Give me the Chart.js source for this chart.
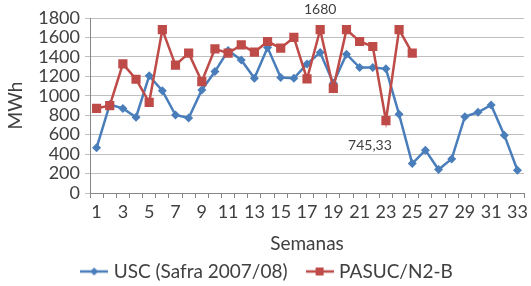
<!DOCTYPE html>
<html><head><meta charset="utf-8">
<script src="https://cdn.jsdelivr.net/npm/chart.js@4/dist/chart.umd.min.js"></script>
<style>html,body{margin:0;padding:0;background:#fff}#wrap{width:531px;height:286px;position:relative}</style>
</head><body><div id="wrap"><canvas id="c"></canvas></div>
<script>
const categories = ['1','2','3','4','5','6','7','8','9','10','11','12','13','14','15','16','17','18','19','20','21','22','23','24','25','26','27','28','29','30','31','32','33'];
const uscValues = [465, 910, 870, 780, 1205, 1053, 802, 771, 1060, 1249, 1465, 1369, 1180, 1496, 1187, 1180, 1328, 1445, 1129, 1428, 1290, 1290, 1277, 809, 303, 441, 241, 351, 785, 830, 905, 595, 234];
const pasucValues = [871, 898, 1328, 1170, 933, 1680, 1315, 1438, 1146, 1483, 1438, 1524, 1449, 1558, 1490, 1600, 1173, 1680, 1077, 1680, 1558, 1507, 745.33, 1680, 1438, null, null, null, null, null, null, null, null];
const xTickLabels = ['1','3','5','7','9','11','13','15','17','19','21','23','25','27','29','31','33'];
const yTickValues = [0, 200, 400, 600, 800, 1000, 1200, 1400, 1600, 1800];
const seriesNames = ['USC (Safra 2007/08)', 'PASUC/N2-B'];
const labelledPoints = [[1, 17], [1, 22]]; // [dataset, index]

const FONT = 'Lato';
const TXT = '#404040';
const BLUE = '#4A7EBB';
const RED = '#BE4B48';

function makeIcon(color, style) {
  const cv = document.createElement('canvas');
  cv.width = 28; cv.height = 12;
  const g = cv.getContext('2d');
  g.strokeStyle = color; g.lineWidth = 2.5;
  g.beginPath(); g.moveTo(0, 6); g.lineTo(28, 6); g.stroke();
  g.fillStyle = color;
  g.beginPath();
  if (style === 'diamond') { g.moveTo(14, 2); g.lineTo(18, 6); g.lineTo(14, 10); g.lineTo(10, 6); g.closePath(); }
  else { g.rect(10, 2, 8, 8); }
  g.fill();
  return cv;
}
const icons = [makeIcon(BLUE, 'diamond'), makeIcon(RED, 'square')];

const legendHeightPlugin = {
  id: 'legendHeight',
  beforeUpdate(chart) {
    const lg = chart.legend;
    if (lg && !lg._patched) {
      const orig = lg.fit.bind(lg);
      lg.fit = function () { orig(); this.height = 46; };
      lg._patched = true;
    }
  }
};

const pointLabelPlugin = {
  id: 'pointLabels',
  afterDatasetsDraw(chart) {
    const ctx = chart.ctx;
    ctx.save();
    ctx.font = '14px ' + FONT;
    ctx.fillStyle = TXT;
    ctx.textAlign = 'center';
    ctx.textBaseline = 'middle';
    labelledPoints.forEach(([d, i], k) => {
      const el = chart.getDatasetMeta(d).data[i];
      const v = chart.data.datasets[d].data[i];
      const txt = String(v).replace('.', ',');
      if (k === 0) ctx.fillText(txt, el.x, el.y - 20);
      else ctx.fillText(txt, el.x - 16, el.y + 25);
    });
    ctx.restore();
  }
};

new Chart(document.getElementById('c'), {
  type: 'line',
  data: {
    labels: categories,
    datasets: [
      { label: seriesNames[0], data: uscValues, borderColor: BLUE, backgroundColor: BLUE, borderWidth: 2.5,
        pointStyle: 'rectRot', pointRadius: 4.5, pointHoverRadius: 4.5, pointBorderWidth: 0, tension: 0, order: 1 },
      { label: seriesNames[1], data: pasucValues, borderColor: RED, backgroundColor: RED, borderWidth: 2.5,
        pointStyle: 'rect', pointRadius: 6.5, pointHoverRadius: 6.5, pointBorderWidth: 0, tension: 0, order: 0, spanGaps: false }
    ]
  },
  options: {
    responsive: true, maintainAspectRatio: false, animation: false,
    layout: { padding: { top: 18, right: 3, left: 9, bottom: 0 } },
    plugins: {
      tooltip: { enabled: false },
      legend: {
        position: 'bottom',
        labels: {
          font: { family: FONT, size: 19 }, color: TXT, usePointStyle: true, pointStyleWidth: 20, padding: 22,
          sort: (a, b) => a.datasetIndex - b.datasetIndex,
          generateLabels(chart) {
            const items = Chart.defaults.plugins.legend.labels.generateLabels(chart);
            items.forEach(it => { it.pointStyle = icons[it.datasetIndex]; });
            return items;
          }
        }
      }
    },
    scales: {
      x: {
        offset: true,
        grid: { display: true, drawOnChartArea: false, drawTicks: true, tickLength: 5, color: '#868686', offset: true },
        border: { color: '#868686' },
        ticks: { autoSkip: false, maxRotation: 0, padding: 3, color: TXT, font: { family: FONT, size: 18 },
          callback(v, i) { const l = categories[i]; return xTickLabels.includes(l) ? l : ''; } },
        title: { display: true, text: 'Semanas', color: TXT, font: { family: FONT, size: 19 }, padding: { top: 0, bottom: -15 } },
        afterFit(s) { s.height = 47; }
      },
      y: {
        min: yTickValues[0], max: yTickValues[yTickValues.length - 1],
        afterBuildTicks(s) { s.ticks = yTickValues.map(v => ({ value: v })); },
        grid: { color: '#BFBFBF', tickLength: 5, drawTicks: true },
        border: { color: '#868686' },
        ticks: { autoSkip: false, padding: 5, color: TXT, font: { family: FONT, size: 18 }, callback: v => String(v) },
        title: { display: true, text: 'MWh', color: TXT, font: { family: FONT, size: 19 }, padding: { top: -5, bottom: 0 } },
        afterFit(s) { s.width = 81; }
      }
    }
  },
  plugins: [legendHeightPlugin, pointLabelPlugin]
});
</script>
</body></html>
